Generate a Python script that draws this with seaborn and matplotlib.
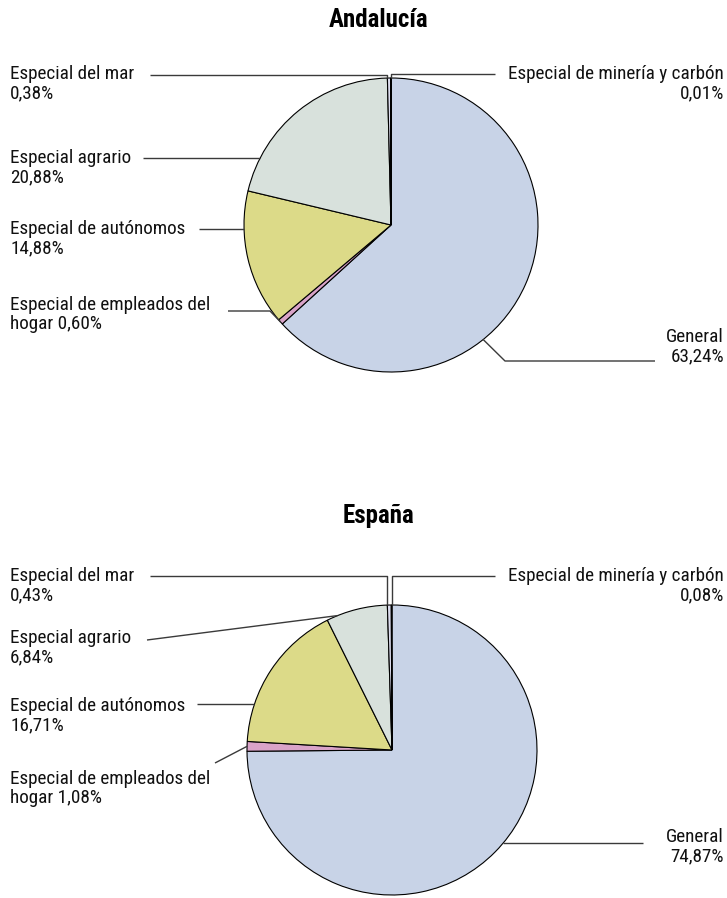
import numpy as np
import matplotlib
matplotlib.use("Agg")
import matplotlib.pyplot as plt
from matplotlib import font_manager
import seaborn as sns

sns.set_style("white")

# pick a narrow face if there is one, else Liberation Sans a bit smaller
installed = {f.name for f in font_manager.fontManager.ttflist}
if "Roboto Condensed" in installed:
    face, label_size, title_size = "Roboto Condensed", 13.8, 18
elif "Liberation Sans Narrow" in installed:
    face, label_size, title_size = "Liberation Sans Narrow", 13.5, 17
else:
    face, label_size, title_size = "Liberation Sans", 12, 15.5
plt.rcParams["font.family"] = [face, "DejaVu Sans"]

# data
categories = [
    "General",
    "Especial de empleados del hogar",
    "Especial de autónomos",
    "Especial agrario",
    "Especial del mar",
    "Especial de minería y carbón",
]
andalucia = [63.24, 0.60, 14.88, 20.88, 0.38, 0.01]
espana = [74.87, 1.08, 16.71, 6.84, 0.43, 0.08]
titles = ["Andalucía", "España"]

colors = ["#c8d3e7", "#d9a3c8", "#dcda88", "#d8e1dc", "#dcdcee", "#f2d09a"]


def label_text(cat, val):
    pct = f"{val:.2f}".replace(".", ",") + "%"
    if cat == "Especial de empleados del hogar":
        return "Especial de empleados del\nhogar " + pct
    return cat + "\n" + pct


# layout (pixel coords, y down): text x, text y, align, line mode, line start x, line y, extra
layout_and = [
    (724, 328, "right", "knee", 655, 361, (505, 0.62)),
    (10, 296, "left", "knee", 228, 311, (270, 0.5)),
    (10, 220, "left", "edge", 199, 229, None),
    (10, 149, "left", "edge", 143, 158, None),
    (10, 65, "left", "drop", 150, 75, 0.0),
    (724, 65, "right", "drop", 495, 74, 0.5),
]
layout_esp = [
    (724, 828, "right", "edge", 643, 843, None),
    (10, 770, "left", "slant", 215, 763, 0.5),
    (10, 697, "left", "edge", 197, 704, None),
    (10, 629, "left", "slant", 147, 640, 0.18),
    (10, 567, "left", "drop", 150, 576, 0.0),
    (724, 567, "right", "drop", 495, 576, 0.5),
]
pies = [
    (andalucia, (391, 225), 147, (379, 20), layout_and),
    (espana, (392, 750), 145, (379, 516), layout_esp),
]

W, H = 727, 898
fig = plt.figure(figsize=(W / 100, H / 100), dpi=100)
ax = fig.add_axes([0, 0, 1, 1])

line_kw = dict(color="#3a3a3a", lw=1.0, solid_capstyle="butt", zorder=1)

for (values, center, radius, title_pos, layout), title in zip(pies, titles):
    wedges, _ = ax.pie(values, colors=colors, center=center, radius=radius,
                       startangle=-90, counterclock=True,
                       wedgeprops=dict(edgecolor="black", linewidth=0.8))
    ax.text(title_pos[0], title_pos[1], title, ha="center", va="center",
            fontsize=title_size, fontweight="bold", color="black")

    cx, cy = center
    for cat, val, w, (tx, ty, ha, mode, sx, sy, extra) in zip(
            categories, values, wedges, layout):
        ax.text(tx, ty, label_text(cat, val), ha=ha, va="top",
                multialignment=ha, fontsize=label_size, linespacing=1.1,
                color="#111111")

        def wedge_point(f):
            th = np.deg2rad(w.theta1 + f * (w.theta2 - w.theta1))
            return cx + radius * np.cos(th), cy + radius * np.sin(th)

        if mode == "edge":
            side = -1 if ha == "left" else 1
            ex = cx + side * np.sqrt(radius ** 2 - (sy - cy) ** 2)
            xs, ys = [sx, ex], [sy, sy]
        elif mode == "drop":
            ex, ey = wedge_point(extra)
            xs, ys = [sx, ex, ex], [sy, sy, ey]
        elif mode == "knee":
            kx, f = extra
            ex, ey = wedge_point(f)
            xs, ys = [sx, kx, ex], [sy, sy, ey]
        else:
            ex, ey = wedge_point(extra)
            xs, ys = [sx, ex], [sy, ey]
        ax.plot(xs, ys, **line_kw)

ax.set_xlim(0, W)
ax.set_ylim(H, 0)
ax.set_aspect("equal")
ax.axis("off")

fig.savefig("out.png", dpi=100)
plt.close(fig)
